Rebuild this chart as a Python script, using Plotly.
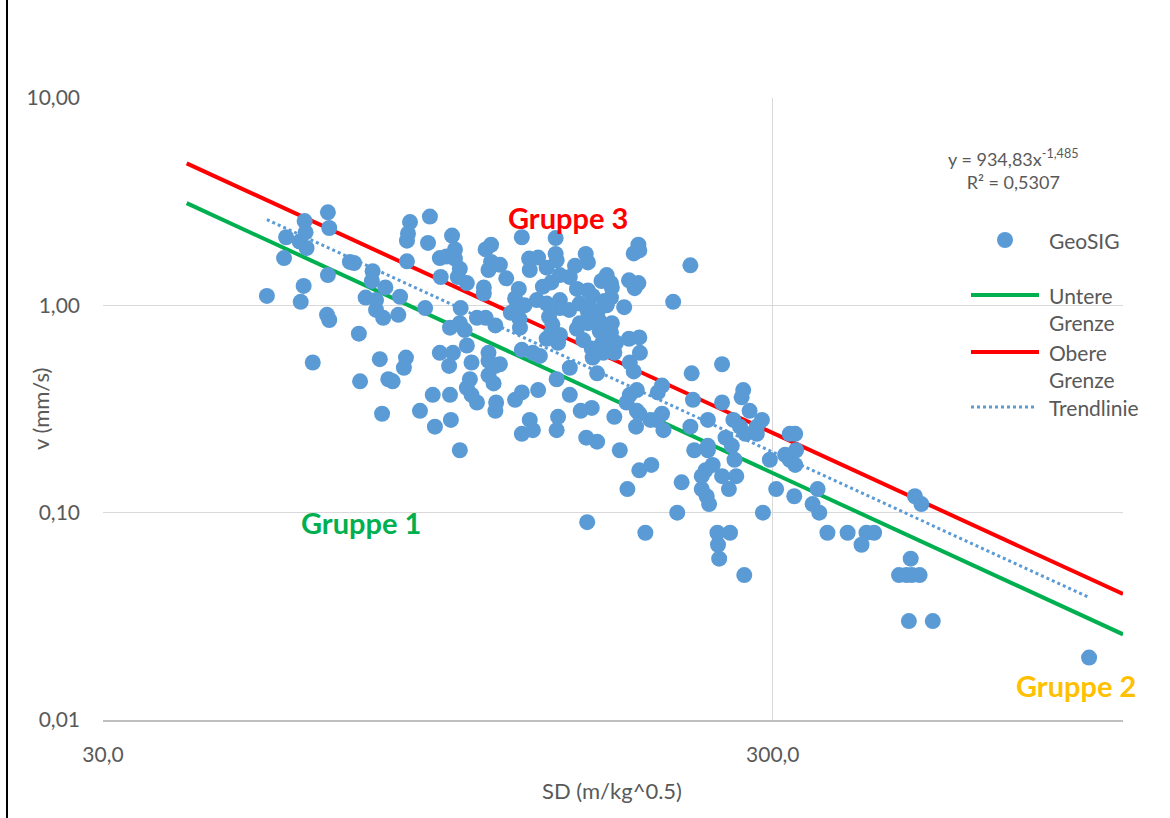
import math
import plotly.graph_objects as go

# ---------------- data ----------------
sd = [52.7, 55.9, 56.3, 59.0, 59.2, 59.8, 60.0, 60.2, 60.4, 61.7,
      65.0, 65.3, 65.0, 64.8, 65.3, 70.1, 71.1, 72.3, 72.6, 74.0,
      75.6, 75.8, 76.7, 76.7, 77.7, 78.3, 78.6, 79.2, 80.0, 81.2,
      82.8, 83.3, 84.4, 85.0, 86.2, 85.6, 85.3, 85.3, 92.3, 91.7,
      90.8, 89.2, 93.2, 93.9, 95.5, 95.8, 95.5, 97.7, 99.6, 98.9,
      98.6, 98.9, 99.9, 99.2, 100.6, 100.6, 102.3, 101.6, 104.8, 102.6,
      102.3, 104.0, 102.3, 104.8, 106.5, 105.9, 104.8, 106.5, 108.5, 108.5,
      111.1, 111.1, 111.8, 112.9, 113.9, 113.9, 111.8, 112.9, 112.9, 112.9,
      114.9, 115.6, 115.6, 115.9, 115.6, 117.4, 120.0, 117.4, 121.9, 123.7,
      123.7, 125.3, 125.6, 123.7, 125.8, 126.6, 126.6, 126.6, 126.6, 127.8,
      129.8, 130.1, 130.1, 131.5, 131.5, 133.3, 133.9, 133.9, 134.7, 136.1,
      137.9, 139.0, 137.9, 137.9, 140.1, 140.6, 140.1, 142.2, 142.2, 142.7,
      143.4, 144.3, 142.7, 143.4, 142.7, 144.3, 144.3, 144.3, 149.3, 152.0,
      157.7, 158.9, 153.0, 158.9, 154.5, 149.0, 161.5, 168.2, 160.0, 164.4,
      158.9, 154.5, 153.0, 158.9, 164.9, 165.5, 156.4, 161.0, 167.0, 161.5,
      164.0, 167.5, 149.3, 149.3, 155.0, 161.0, 158.0, 164.0, 158.5, 169.5,
      166.5, 172.0, 172.5, 172.0, 172.5, 169.5, 172.0, 175.0, 174.0, 177.3,
      174.0, 183.0, 189.0, 186.6, 189.0, 189.6, 186.0, 180.0, 183.0, 189.6,
      190.0, 183.5, 186.0, 183.5, 181.5, 188.0, 188.0, 189.6, 187.5, 189.6,
      182.0, 193.6, 197.0, 201.0, 205.0, 206.0, 197.6, 202.0, 205.0, 216.0,
      219.3, 226.0, 213.0, 227.0, 228.0, 226.0, 229.0, 240.0, 235.0, 238.0,
      244.0, 235.0, 239.0, 241.0, 252.0, 258.0, 264.6, 240.0, 240.0, 252.0,
      252.0, 255.0, 260.6, 263.0, 262.0, 271.0, 269.5, 277.0, 268.0, 273.0,
      284.0, 289.0, 284.0, 297.0, 303.5, 290.0, 248.0, 259.0, 248.5, 249.5,
      272.0, 318.0, 324.0, 325.0, 313.0, 318.0, 324.0, 323.0, 350.0, 344.0,
      352.0, 362.0, 388.0, 414.0, 425.0, 407.0, 489.0, 500.0, 482.0, 463.0,
      475.0, 484.0, 497.0, 479.0, 520.0, 890.0]

v = [1.11, 1.69, 2.13, 2.03, 1.04, 1.24, 2.55, 2.25, 1.89, 0.53,
     2.81, 2.36, 1.40, 0.90, 0.85, 1.62, 1.60, 0.73, 0.43, 1.09,
     1.31, 1.46, 1.06, 0.95, 0.55, 0.30, 0.87, 1.22, 0.44, 0.43,
     0.90, 1.10, 0.50, 0.56, 2.52, 2.22, 2.05, 1.63, 2.68, 2.00,
     0.97, 0.31, 0.37, 0.26, 1.69, 1.37, 0.59, 1.72, 2.17, 0.78,
     0.51, 0.37, 0.59, 0.28, 1.86, 1.68, 1.50, 1.37, 1.28, 0.97,
     0.82, 0.76, 0.20, 0.64, 0.53, 0.44, 0.40, 0.37, 0.34, 0.87,
     1.22, 1.14, 1.86, 1.48, 1.96, 1.62, 0.87, 0.59, 0.54, 0.46,
     0.42, 0.51, 0.80, 0.34, 0.31, 1.57, 1.35, 0.52, 0.92, 1.08,
     0.95, 1.20, 0.86, 0.35, 0.78, 2.13, 0.61, 0.38, 0.24, 1.00,
     1.68, 1.48, 0.28, 0.25, 0.59, 1.06, 1.70, 0.39, 0.57, 1.23,
     1.52, 0.88, 0.69, 1.02, 1.29, 0.81, 0.74, 2.11, 1.77, 1.65,
     0.66, 0.72, 0.44, 0.29, 0.25, 1.40, 1.06, 0.97, 1.37, 1.55,
     1.77, 1.61, 1.20, 1.18, 1.02, 0.95, 1.11, 1.05, 0.97, 0.94,
     0.93, 0.82, 0.77, 0.82, 0.85, 0.75, 0.68, 0.62, 0.66, 0.56,
     0.47, 0.59, 0.50, 0.37, 0.31, 0.32, 0.23, 0.22, 0.09, 1.40,
     1.31, 1.28, 1.22, 1.09, 0.82, 1.00, 0.74, 0.66, 0.59, 0.20,
     0.29, 1.32, 1.28, 1.21, 1.96, 1.84, 1.78, 0.98, 0.69, 0.70,
     0.59, 0.53, 0.48, 0.37, 0.34, 0.31, 0.39, 0.30, 0.26, 0.16,
     0.13, 0.08, 0.28, 0.28, 0.30, 0.25, 0.17, 0.38, 0.41, 0.10,
     0.14, 1.56, 1.04, 0.47, 0.35, 0.26, 0.20, 0.28, 0.15, 0.16,
     0.17, 0.13, 0.12, 0.11, 0.15, 0.13, 0.15, 0.21, 0.20, 0.52,
     0.34, 0.23, 0.21, 0.18, 0.28, 0.39, 0.36, 0.31, 0.26, 0.24,
     0.26, 0.28, 0.24, 0.18, 0.13, 0.10, 0.08, 0.08, 0.07, 0.06,
     0.05, 0.24, 0.24, 0.20, 0.19, 0.18, 0.17, 0.12, 0.13, 0.11,
     0.10, 0.08, 0.08, 0.08, 0.08, 0.07, 0.12, 0.11, 0.06, 0.05,
     0.05, 0.05, 0.05, 0.03, 0.03, 0.02]

grenze_sd = [40, 1000]
untere_v = [3.11, 0.0259]
obere_v = [4.84, 0.0405]

trend_a = 934.83
trend_b = -1.485
trend_sd = [min(sd), max(sd)]
trend_v = [trend_a * x ** trend_b for x in trend_sd]

x_ticks = [30, 300]
x_ticktext = ["30,0", "300,0"]
y_ticks = [0.01, 0.1, 1, 10]
y_ticktext = ["0,01", "0,10", "1,00", "10,00"]

# ---------------- styling ----------------
FONT = "Lato, 'Open Sans', sans-serif"
GRAY = "#595959"
BLUE = "#5B9BD5"
GREEN = "#00B050"
RED = "#FF0000"
GOLD = "#FFC000"

W, H = 1170, 818
L, R, T, B = 103, 47, 98, 98
PW, PH = W - L - R, H - T - B


def px(x):
    return (x - L) / PW


def py(y):
    return (H - B - y) / PH


fig = go.Figure()
fig.add_trace(go.Scatter(x=grenze_sd, y=untere_v, mode="lines", name="Untere Grenze",
                         line=dict(color=GREEN, width=4), showlegend=False))
fig.add_trace(go.Scatter(x=grenze_sd, y=obere_v, mode="lines", name="Obere Grenze",
                         line=dict(color=RED, width=4), showlegend=False))
fig.add_trace(go.Scatter(x=sd, y=v, mode="markers", name="GeoSIG",
                         marker=dict(color=BLUE, size=16, line=dict(width=0)),
                         showlegend=False))
fig.add_trace(go.Scatter(x=trend_sd, y=trend_v, mode="lines", name="Trendlinie",
                         line=dict(color=BLUE, width=3, dash="dot"), showlegend=False))

annotations = []


def text(x, y, s, size=20, color=GRAY, xanchor="center", yanchor="middle", align="center",
         bold=False, angle=0):
    annotations.append(dict(
        x=px(x), y=py(y), xref="paper", yref="paper", text=s, showarrow=False,
        xanchor=xanchor, yanchor=yanchor, align=align, textangle=angle,
        font=dict(family=FONT, size=size, color=color,
                  weight="bold" if bold else "normal")))


# equation of trend line
text(1013, 169, "y = 934,83x<sup>-1,485</sup><br>R² = 0,5307", size=18)

# group labels
text(568, 217, "Gruppe 3", size=29, color=RED, bold=True)
text(361, 522, "Gruppe 1", size=29, color=GREEN, bold=True)
text(1076, 685, "Gruppe 2", size=29, color=GOLD, bold=True)

# axis titles
text(40, 409, "v (mm/s)", size=22, angle=-90)
text(612, 790, "SD (m/kg^0.5)", size=22)

# custom legend
shapes = []
shapes.append(dict(type="circle", xref="paper", yref="paper",
                   x0=px(997), x1=px(1013), y0=py(248), y1=py(232),
                   fillcolor=BLUE, line=dict(width=0)))
text(1047, 240, "GeoSIG", size=21, xanchor="left", align="left")
shapes.append(dict(type="line", xref="paper", yref="paper",
                   x0=px(971), x1=px(1039), y0=py(295), y1=py(295),
                   line=dict(color=GREEN, width=4)))
text(1047, 281, "Untere<br>Grenze", size=21, xanchor="left", yanchor="top", align="left")
shapes.append(dict(type="line", xref="paper", yref="paper",
                   x0=px(971), x1=px(1039), y0=py(352), y1=py(352),
                   line=dict(color=RED, width=4)))
text(1047, 338, "Obere<br>Grenze", size=21, xanchor="left", yanchor="top", align="left")
shapes.append(dict(type="line", xref="paper", yref="paper",
                   x0=px(971), x1=px(1036), y0=py(407), y1=py(407),
                   line=dict(color=BLUE, width=3, dash="dot")))
text(1047, 407, "Trendlinie", size=21, xanchor="left", align="left")

# outer chart border (left edge)
shapes.append(dict(type="line", xref="paper", yref="paper",
                   x0=px(7), x1=px(7), y0=py(0), y1=py(H),
                   line=dict(color="black", width=2)))

fig.update_layout(
    width=W, height=H,
    margin=dict(l=L, r=R, t=T, b=B, autoexpand=False),
    paper_bgcolor="white", plot_bgcolor="white",
    font=dict(family=FONT, size=20, color=GRAY),
    showlegend=False,
    annotations=annotations,
    shapes=shapes,
    xaxis=dict(type="log", range=[math.log10(30), math.log10(1000)],
               tickvals=x_ticks, ticktext=x_ticktext, ticks="",
               showgrid=True, gridcolor="#D9D9D9", gridwidth=1,
               showline=True, linecolor="#BFBFBF", linewidth=2,
               zeroline=False, ticklabelstandoff=15,
               tickfont=dict(family=FONT, size=21, color=GRAY)),
    yaxis=dict(type="log", range=[-2, 1],
               tickvals=y_ticks, ticktext=y_ticktext, ticks="",
               showgrid=True, gridcolor="#D9D9D9", gridwidth=1,
               showline=False, zeroline=False, ticklabelstandoff=22,
               tickfont=dict(family=FONT, size=21, color=GRAY)),
)

fig.write_html("out.html")
